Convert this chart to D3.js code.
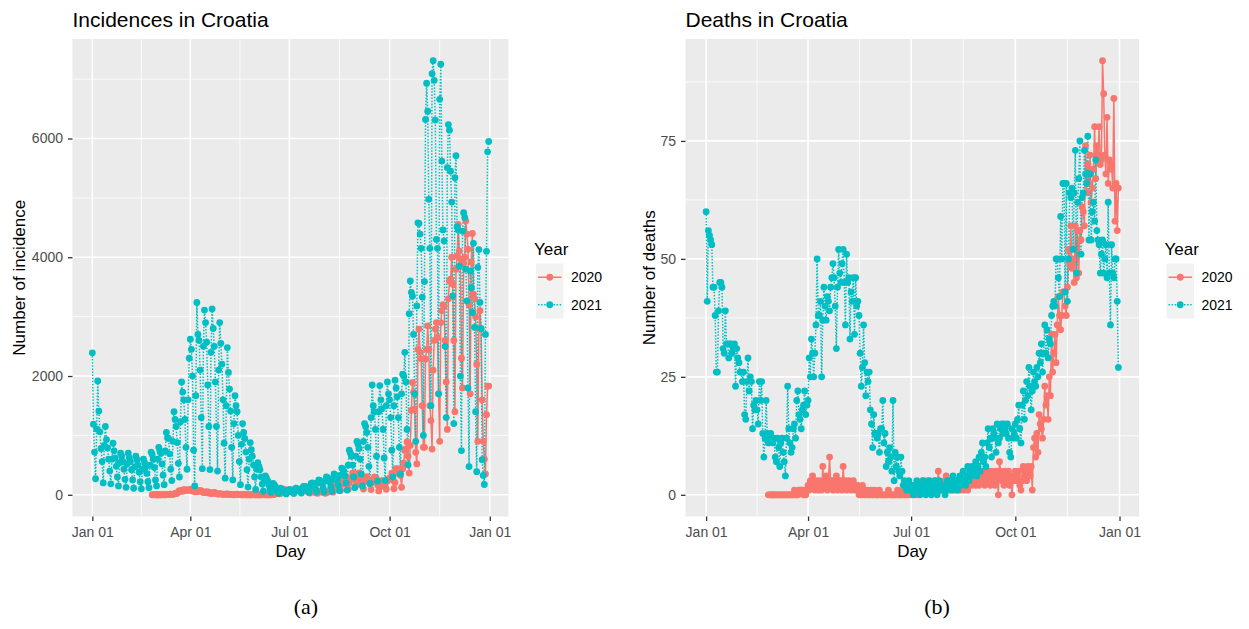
<!DOCTYPE html>
<meta charset="utf-8">
<script src="https://d3js.org/d3.v7.min.js"></script>
<style>
  body { margin: 0; background: #fff; }
  svg { font-family: "Liberation Sans", Arial, sans-serif; }
  .panel-bg { fill: #EBEBEB; }
  .grid-major { stroke: #fff; stroke-width: 1.6; }
  .grid-minor { stroke: #fff; stroke-width: 0.8; }
  .axis text { fill: #4D4D4D; font-size: 14px; }
  .axis line { stroke: #333; stroke-width: 1.3; }
  .axis path { display: none; }
  .axis-title { font-size: 17px; fill: #000; }
  .plot-title { font-size: 21px; fill: #000; }
  .legend-title { font-size: 17px; fill: #000; }
  .legend-label { font-size: 14px; fill: #000; }
  .caption { font-family: "Liberation Serif", "DejaVu Serif", serif; font-size: 22px; fill: #000; }
</style>
<body></body>
<script>

// daily new cases, 2021 (Jan 01 .. Dec 31)
var incid2021 = [
  2390,1190,720,270,1110,1916,1410,1060,780,560,200,830,1150,930,790,600,400,185,600,870,740,620,480,300,150,540,700,650,560,430,260,
  125,520,700,620,560,420,250,110,470,650,590,500,380,220,100,430,600,540,470,360,220,120,500,720,680,600,460,250,
  150,600,800,740,700,520,330,170,740,1050,960,950,690,430,240,900,1400,1270,1150,880,530,300,1230,1900,1730,1600,1270,800,430,1600,2300,
  2620,2450,2000,750,150,1670,3240,2700,2600,2100,1300,440,2500,3110,2900,2570,1850,1150,425,2400,3130,2800,2500,1900,1150,400,2100,2900,2550,2200,
  1600,870,280,1500,2480,2060,1780,1410,800,250,1200,1670,1500,1400,1000,560,170,850,1200,1050,950,720,420,130,600,880,760,650,500,300,90,
  430,540,480,420,300,180,60,250,320,280,240,170,100,40,150,190,170,140,100,60,25,80,110,90,80,60,40,15,60,80,
  90,80,60,40,20,80,110,100,90,75,50,30,110,140,140,130,110,70,40,140,190,200,180,150,100,50,200,250,240,230,180,
  110,50,230,300,290,270,220,140,60,260,350,330,310,250,160,70,330,450,430,400,320,200,80,500,750,700,650,500,300,120,650,
  900,850,780,600,350,150,900,1200,1150,1050,800,480,190,1300,1850,1500,1400,1100,650,230,1400,1840,1600,1450,1100,620,240,1500,1900,1700,
  1600,1300,750,300,1500,1930,1800,1650,1300,800,350,1700,2030,2000,2400,1900,1100,500,3050,3600,3410,3345,2700,1700,900,3180,4580,4570,4390,4150,3330,
  1000,3590,6320,6930,6460,4975,4150,1500,7090,7310,6980,6310,4300,4150,1700,6660,7250,5620,4460,4275,2500,1300,5510,6235,6140,5450,4930,3350,1200,5340,
  5710,4510,4460,3850,2000,745,4440,4750,4670,3800,3265,1800,475,3770,3490,3070,4235,2820,1400,390,3830,4130,3240,2800,590,325,173,2700,4100,5775,5950
];

// daily new cases, 2020 (Feb 25 .. Dec 31)
var incid2020 = [
  1,2,0,2,1,
  0,1,0,1,1,0,2,0,1,2,2,5,11,10,8,8,12,24,23,24,52,71,61,76,60,86,87,71,83,77,80,
  96,76,66,70,50,53,50,72,60,72,67,54,37,44,37,51,34,44,25,24,30,23,40,32,21,13,15,17,17,12,
  11,8,11,9,13,6,11,5,2,8,1,5,2,10,3,4,4,1,1,3,1,3,1,0,1,0,1,0,2,1,0,
  0,1,0,1,0,0,2,0,1,0,0,0,1,0,2,5,5,16,22,25,30,16,26,36,45,95,67,64,45,52,
  52,74,67,51,90,54,75,93,81,96,80,60,66,116,140,115,83,48,44,30,88,98,76,68,34,40,26,52,61,55,51,
  37,40,25,50,43,51,74,69,73,44,100,110,180,130,220,160,77,208,180,183,270,298,209,95,200,280,264,366,369,261,154,
  220,296,369,317,304,228,98,226,295,304,258,215,186,88,209,236,302,248,269,167,65,125,185,240,229,218,142,93,226,264,
  280,274,363,248,102,209,442,440,363,427,326,125,438,537,748,773,891,648,366,830,1420,1890,1725,1445,715,520,2450,2790,2400,2290,1500,
  800,800,2285,2450,2845,2450,1500,1250,770,2100,2600,2790,2900,2650,1700,900,2900,3100,3200,3180,2600,1900,1100,3300,3600,3630,4000,3545,2600,1400,
  3800,4020,4555,4105,3970,2300,1800,3900,4000,4610,4390,4135,3200,1700,3920,4400,3380,3300,3000,2200,900,2800,3100,2790,1600,900,600,350,1350,1830,1830
];

// daily deaths, 2021 (Jan 01 .. Dec 31)
var deaths2021 = [
  60,41,56,55,54,53,44,44,38,26,26,39,45,45,44,31,30,39,32,32,29,32,32,30,31,32,23,31,29,28,26,
  26,24,26,17,16,24,29,22,25,24,14,19,18,20,18,15,24,20,24,13,8,12,20,13,11,12,13,12,
  11,12,8,7,12,10,6,11,12,9,7,4,12,23,14,11,9,10,14,15,12,20,22,17,16,14,18,19,22,17,19,
  20,29,25,33,30,25,30,36,50,38,38,41,25,37,44,40,37,42,41,39,44,46,49,46,40,31,44,52,47,45,
  49,52,45,36,51,45,46,33,43,41,46,34,46,40,41,38,30,23,27,36,28,21,26,24,26,18,15,10,17,13,13,
  12,13,9,14,14,20,11,13,6,9,7,10,8,5,20,3,9,6,8,5,4,8,5,2,3,2,1,2,3,1,
  2,1,0,2,1,3,1,2,0,1,2,3,1,0,2,1,3,2,0,1,2,3,1,0,2,3,1,2,2,1,0,
  1,3,2,3,2,1,4,3,2,3,1,3,4,2,3,5,3,2,4,6,3,5,4,6,5,6,7,4,6,8,5,
  9,11,7,8,6,11,14,10,12,8,14,13,12,9,15,11,12,14,15,13,15,14,13,15,12,9,8,14,12,13,
  15,12,16,19,14,11,19,22,16,20,24,21,27,23,18,22,26,24,23,27,25,30,28,32,26,30,36,30,35,29,33,
  32,38,40,41,40,50,50,46,42,59,50,66,66,43,66,41,50,64,63,65,52,64,73,47,62,67,75,51,63,64,
  73,68,66,76,54,68,54,60,62,58,71,56,54,53,47,51,54,47,50,53,46,62,47,36,53,47,46,50,50,41,27
];

// daily deaths, 2020 (Feb 25 .. Dec 31)
var deaths2020 = [
  0,0,0,0,0,
  0,0,0,0,0,0,0,0,0,0,0,0,0,0,0,0,0,0,0,1,0,0,0,1,1,1,1,0,1,0,1,
  2,1,3,2,4,2,1,3,2,1,3,2,1,6,2,3,4,1,3,8,2,3,1,3,2,4,1,3,2,3,
  1,6,2,3,1,2,3,2,1,2,3,1,2,1,2,0,1,0,2,1,0,1,0,1,0,0,1,0,0,1,0,
  0,0,1,0,0,0,0,0,0,0,1,0,0,0,0,0,0,0,1,0,0,0,0,1,0,1,0,1,0,2,
  0,1,2,1,1,0,2,1,2,1,3,1,2,2,1,3,1,2,1,2,2,3,1,2,5,2,2,1,2,1,3,
  4,1,2,1,2,3,1,2,1,2,1,3,2,1,3,2,1,2,3,1,2,4,3,2,5,3,2,4,3,2,3,
  4,3,5,2,4,3,5,4,2,5,4,3,2,5,4,0,7,5,3,4,2,5,4,3,5,2,4,0,3,4,
  5,3,4,5,2,1,3,6,4,5,3,6,5,4,6,1,10,12,8,13,9,17,15,14,12,16,23,19,21,16,25,
  21,34,26,30,34,28,36,42,38,35,38,43,43,40,38,44,52,49,57,48,50,45,57,46,56,47,56,54,61,60,
  57,74,64,70,66,72,62,65,69,78,67,74,72,78,70,71,92,85,72,68,80,66,71,69,70,65,84,58,66,56,65
];

var start2021 = new Date(2021, 0, 1);
var start2020 = new Date(2020, 1, 25);
var years = ["2020", "2021"];
var xTickDates = [new Date(2021, 0, 1), new Date(2021, 3, 1), new Date(2021, 6, 1), new Date(2021, 9, 1), new Date(2022, 0, 1)];
var xTickLabels = ["Jan 01", "Apr 01", "Jul 01", "Oct 01", "Jan 01"];
var incidTicks = [0, 2000, 4000, 6000];
var deathTicks = [0, 25, 50, 75];

var colors = {"2020": "#F8766D", "2021": "#00BFC4"};
var dashes = {"2020": null, "2021": "1.5,1.6"};

// every year is put on the same calendar axis (month / day of 2021)
function toSeries(values, start) {
    return values.map(function (v, i) {
        var d = d3.timeDay.offset(start, i);
        return {date: new Date(2021, d.getMonth(), d.getDate()), value: v};
    });
}

var width = 1249, height = 629;
var svg = d3.select("body").append("svg")
    .attr("width", width)
    .attr("height", height);

var panelTop = 39, panelBottom = 516.5;

var panels = [
    {left: 72.5, right: 508.5, title: "Incidences in Croatia", ylab: "Number of incidence",
     ticks: incidTicks, data: {"2020": incid2020, "2021": incid2021}, ylabX: 25, caption: "(a)", capX: 306},
    {left: 685.5, right: 1139, title: "Deaths in Croatia", ylab: "Number of deaths",
     ticks: deathTicks, data: {"2020": deaths2020, "2021": deaths2021}, ylabX: 655, caption: "(b)", capX: 937}
];

panels.forEach(function (p) {
    var w = p.right - p.left, h = panelBottom - panelTop;
    var series = {
        "2020": toSeries(p.data["2020"], start2020),
        "2021": toSeries(p.data["2021"], start2021)
    };
    var all = series["2020"].concat(series["2021"]);

    var xPad = w / 22, yPad = h / 22;
    var x = d3.scaleTime()
        .domain(d3.extent(all, function (d) { return d.date; }))
        .range([p.left + xPad, p.right - xPad]);
    var y = d3.scaleLinear()
        .domain([0, d3.max(all, function (d) { return d.value; })])
        .range([panelBottom - yPad, panelTop + yPad]);

    var g = svg.append("g");

    g.append("rect").attr("class", "panel-bg")
        .attr("x", p.left).attr("y", panelTop)
        .attr("width", w).attr("height", h);

    // minor grid
    var step = p.ticks[1] - p.ticks[0];
    var yMinor = p.ticks.map(function (t) { return t + step / 2; })
        .filter(function (t) { return y(t) > panelTop; });
    var xMinor = d3.pairs(xTickDates).map(function (pr) {
        return new Date((pr[0].getTime() + pr[1].getTime()) / 2);
    });

    g.selectAll(".ymin").data(yMinor).enter().append("line")
        .attr("class", "grid-minor")
        .attr("x1", p.left).attr("x2", p.right)
        .attr("y1", function (d) { return y(d); }).attr("y2", function (d) { return y(d); });
    g.selectAll(".xmin").data(xMinor).enter().append("line")
        .attr("class", "grid-minor")
        .attr("y1", panelTop).attr("y2", panelBottom)
        .attr("x1", function (d) { return x(d); }).attr("x2", function (d) { return x(d); });

    g.selectAll(".ymaj").data(p.ticks).enter().append("line")
        .attr("class", "grid-major")
        .attr("x1", p.left).attr("x2", p.right)
        .attr("y1", function (d) { return y(d); }).attr("y2", function (d) { return y(d); });
    g.selectAll(".xmaj").data(xTickDates).enter().append("line")
        .attr("class", "grid-major")
        .attr("y1", panelTop).attr("y2", panelBottom)
        .attr("x1", function (d) { return x(d); }).attr("x2", function (d) { return x(d); });

    // lines, then points (2020 first, 2021 on top)
    var line = d3.line()
        .x(function (d) { return x(d.date); })
        .y(function (d) { return y(d.value); });

    years.forEach(function (yr) {
        g.append("path")
            .attr("d", line(series[yr]))
            .attr("fill", "none")
            .attr("stroke", colors[yr])
            .attr("stroke-width", 1.5)
            .attr("stroke-dasharray", dashes[yr]);
    });
    years.forEach(function (yr) {
        g.selectAll(".pt" + yr).data(series[yr]).enter().append("circle")
            .attr("cx", function (d) { return x(d.date); })
            .attr("cy", function (d) { return y(d.value); })
            .attr("r", 3.4)
            .attr("fill", colors[yr]);
    });

    // axes
    g.append("g").attr("class", "axis")
        .attr("transform", "translate(0," + panelBottom + ")")
        .call(d3.axisBottom(x).tickValues(xTickDates)
            .tickFormat(function (d, i) { return xTickLabels[i]; })
            .tickSizeOuter(0).tickSize(4.5).tickPadding(6.5));
    g.append("g").attr("class", "axis")
        .attr("transform", "translate(" + p.left + ",0)")
        .call(d3.axisLeft(y).tickValues(p.ticks)
            .tickFormat(d3.format("d"))
            .tickSizeOuter(0).tickSize(4.5).tickPadding(5));
    g.selectAll(".axis text").attr("font-family", null);

    // titles
    g.append("text").attr("class", "plot-title")
        .attr("x", p.left).attr("y", 27).text(p.title);
    g.append("text").attr("class", "axis-title")
        .attr("x", (p.left + p.right) / 2).attr("y", 557)
        .attr("text-anchor", "middle").text("Day");
    g.append("text").attr("class", "axis-title")
        .attr("transform", "translate(" + p.ylabX + "," + ((panelTop + panelBottom) / 2) + ") rotate(-90)")
        .attr("text-anchor", "middle").text(p.ylab);

    // legend
    var lx = p.right + 25.5, key = 27.5, ky = 263.5;
    var lg = g.append("g");
    lg.append("text").attr("class", "legend-title")
        .attr("x", lx).attr("y", 255).text("Year");
    years.forEach(function (yr, i) {
        var cy = ky + key * i + key / 2;
        lg.append("rect")
            .attr("x", lx + 2).attr("y", ky + key * i)
            .attr("width", key).attr("height", key)
            .attr("fill", "#F2F2F2");
        lg.append("line")
            .attr("x1", lx + 2 + 2).attr("x2", lx + 2 + key - 2)
            .attr("y1", cy).attr("y2", cy)
            .attr("stroke", colors[yr]).attr("stroke-width", 1.5)
            .attr("stroke-dasharray", dashes[yr]);
        lg.append("circle")
            .attr("cx", lx + 2 + key / 2).attr("cy", cy).attr("r", 3.4)
            .attr("fill", colors[yr]);
        lg.append("text").attr("class", "legend-label")
            .attr("x", lx + 37).attr("y", cy).attr("dy", "0.35em").text(yr);
    });

    // sub-figure caption
    svg.append("text").attr("class", "caption")
        .attr("x", p.capX).attr("y", 614)
        .attr("text-anchor", "middle").text(p.caption);
});

</script>
